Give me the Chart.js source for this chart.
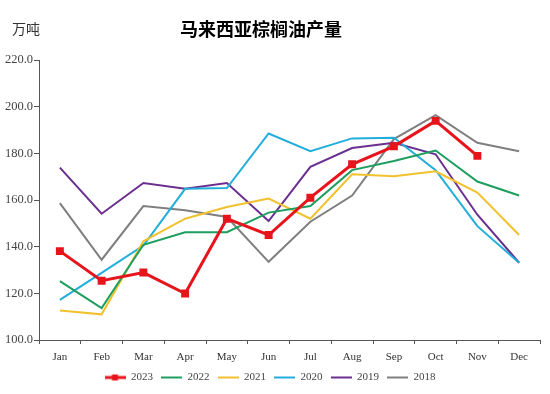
<!DOCTYPE html>
<html><head><meta charset="utf-8">
<script src="https://cdn.jsdelivr.net/npm/chart.js@4/dist/chart.umd.min.js"></script>
<style>html,body{margin:0;padding:0;background:#fff}#wrap{width:550px;height:394px}</style>
</head><body><div id="wrap"><canvas id="c" width="550" height="394"></canvas></div>
<script>
const months = ['Jan','Feb','Mar','Apr','May','Jun','Jul','Aug','Sep','Oct','Nov','Dec'];
const yTicks = [100,120,140,160,180,200,220];
const s2023 = [138.1,125.4,128.9,119.9,152.0,145.0,161.0,175.3,183.0,193.9,178.9,null];
const s2022 = [125.2,113.7,140.8,146.2,146.2,154.6,157.4,172.8,176.7,181.2,167.9,161.9];
const s2021 = [112.6,111.0,142.3,152.0,157.0,160.6,152.0,171.0,170.2,172.3,163.2,145.0];
const s2020 = [117.2,128.8,140.5,164.8,165.1,188.5,180.9,186.4,186.7,172.8,148.8,133.1];
const s2019 = [173.9,154.1,167.3,164.8,167.3,151.0,174.2,182.3,184.5,179.6,153.7,133.1];
const s2018 = [158.7,134.4,157.4,155.6,152.7,133.5,150.7,161.9,186.1,196.4,184.5,180.9];
const seriesNames = ['2023','2022','2021','2020','2019','2018'];
const seriesData = [s2023,s2022,s2021,s2020,s2019,s2018];
const colors = ['#E8141B','#1E9E5E','#F2C12E','#22AEDB','#6B2F8F','#7F7F7F'];
const title = '马来西亚棕榈油产量';
const unit = '万吨';

function legendIcon(color, marker){
  const c = document.createElement('canvas');
  c.width = 21; c.height = 10;
  const g = c.getContext('2d');
  g.strokeStyle = color; g.lineWidth = marker ? 3 : 2;
  g.beginPath(); g.moveTo(0,5); g.lineTo(21,5); g.stroke();
  if (marker){ g.fillStyle = color; g.fillRect(7.5,2,6,6); }
  return c;
}

const datasets = seriesNames.map((n,i)=>({
  label: n,
  data: seriesData[i],
  borderColor: colors[i],
  backgroundColor: colors[i],
  borderWidth: i===0 ? 3 : 2,
  pointRadius: i===0 ? 3.5 : 0,
  pointStyle: i===0 ? 'rect' : 'circle',
  pointHoverRadius: 0,
  tension: 0,
  fill: false,
  order: i===0 ? 0 : i,
  spanGaps: false,
  icon: legendIcon(colors[i], i===0)
}));

const textPlugin = {
  id: 'texts',
  afterDraw(chart){
    const ctx = chart.ctx;
    ctx.save();
    ctx.fillStyle = '#000';
    ctx.textBaseline = 'middle';
    ctx.textAlign = 'center';
    ctx.font = 'bold 18px "Noto Sans CJK SC"';
    ctx.fillText(title, 261, 29);
    ctx.fillStyle = '#333';
    ctx.textAlign = 'left';
    ctx.font = '14px "Noto Sans CJK SC"';
    ctx.fillText(unit, 12, 29);
    ctx.restore();
  }
};

new Chart(document.getElementById('c'), {
  type: 'line',
  data: { labels: months, datasets },
  plugins: [textPlugin],
  options: {
    responsive: false,
    animation: false,
    layout: { padding: { top: 60, right: 10, bottom: 1, left: 0 } },
    plugins: {
      legend: {
        position: 'bottom',
        labels: {
          usePointStyle: true,
          pointStyleWidth: 21,
          padding: 8,
          boxHeight: 10,
          color: '#444',
          font: { family: '"Liberation Serif"', size: 11 },
          generateLabels(chart){
            return chart.data.datasets.map((d,i)=>({
              text: d.label, pointStyle: d.icon, fillStyle: d.borderColor,
              strokeStyle: d.borderColor, lineWidth: 0, hidden: false, datasetIndex: i,
              fontColor: '#444'
            }));
          }
        }
      },
      tooltip: { enabled: false },
      title: { display: false }
    },
    scales: {
      x: {
        offset: true,
        afterFit(s){ s.height = 24; },
        grid: { display: true, drawOnChartArea: false, offset: true, tickLength: 4, color: '#555', lineWidth: 1 },
        border: { display: true, color: '#555', width: 1 },
        ticks: { color: '#333', padding: 7, maxRotation: 0, font: { family: '"Liberation Serif"', size: 11 } }
      },
      y: {
        min: 100, max: 220,
        afterFit(s){ s.width = 39; },
        afterBuildTicks(s){ s.ticks = yTicks.map(v=>({value:v})); },
        grid: { display: true, drawOnChartArea: false, tickLength: 5, color: '#555', lineWidth: 1 },
        border: { display: true, color: '#555', width: 1 },
        ticks: { color: '#444', padding: 1, font: { family: '"Liberation Serif"', size: 12.5 }, callback: v => Number(v).toFixed(1) }
      }
    }
  }
});
</script></body></html>
